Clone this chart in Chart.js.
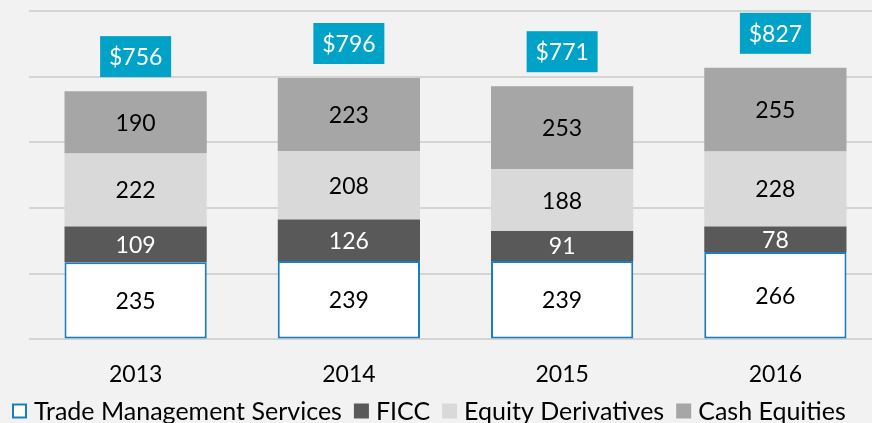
<!DOCTYPE html>
<html>
<head>
<meta charset="utf-8">
<script src="https://cdn.jsdelivr.net/npm/chart.js@4/dist/chart.umd.min.js"></script>
<style>
  html, body { margin: 0; padding: 0; background: #f2f2f2; overflow: hidden; }
  #wrap { width: 882px; height: 423px; position: relative; }
</style>
</head>
<body>
<div id="wrap"><canvas id="revChart"></canvas></div>
<script>
const years = ['2013', '2014', '2015', '2016'];
const tradeMgmt = [235, 239, 239, 266];
const ficc = [109, 126, 91, 78];
const equityDeriv = [222, 208, 188, 228];
const cashEquities = [190, 223, 253, 255];
const totals = [756, 796, 771, 827];

const FONT = 'Lato, "Open Sans", sans-serif';

// numbers centred in each stacked segment
const segmentLabels = {
    id: 'segmentLabels',
    afterDatasetsDraw(chart) {
        const ctx = chart.ctx;
        ctx.save();
        ctx.font = '23px ' + FONT;
        ctx.textAlign = 'center';
        ctx.textBaseline = 'middle';
        chart.data.datasets.forEach((ds, i) => {
            const meta = chart.getDatasetMeta(i);
            meta.data.forEach((bar, j) => {
                const midY = (bar.y + bar.base) / 2;
                ctx.fillStyle = ds.labelColor;
                ctx.fillText(ds.data[j], bar.x, midY + 1);
            });
        });
        ctx.restore();
    }
};

// cyan total boxes above each bar
const totalBoxes = {
    id: 'totalBoxes',
    afterDatasetsDraw(chart) {
        const ctx = chart.ctx;
        const y = chart.scales.y;
        const x = chart.scales.x;
        ctx.save();
        ctx.font = '23px ' + FONT;
        ctx.textAlign = 'center';
        ctx.textBaseline = 'middle';
        totals.forEach((t, i) => {
            const cx = x.getPixelForValue(i);
            const top = y.getPixelForValue(t);
            const w = 71, h = 41;
            ctx.fillStyle = '#00a2c7';
            ctx.fillRect(cx - w / 2, top - 14 - h, w, h);
            ctx.fillStyle = '#ffffff';
            ctx.fillText('$' + t, cx, top - 14 - h / 2 + 1);
        });
        ctx.restore();
    }
};

// legend drawn along the bottom edge
const bottomLegend = {
    id: 'bottomLegend',
    afterDraw(chart) {
        const ctx = chart.ctx;
        ctx.save();
        ctx.font = '25px ' + FONT;
        ctx.textBaseline = 'middle';
        ctx.textAlign = 'left';
        let x = 12;
        const cy = 411;
        chart.data.datasets.forEach(ds => {
            ctx.fillStyle = ds.backgroundColor;
            ctx.fillRect(x, cy - 7.5, 15, 15);
            if (ds.borderWidth) {
                ctx.strokeStyle = ds.borderColor;
                ctx.lineWidth = 2;
                ctx.strokeRect(x + 1, cy - 6.5, 13, 13);
            }
            x += 22;
            ctx.fillStyle = '#000000';
            ctx.fillText(ds.label, x, cy + 1);
            x += ctx.measureText(ds.label).width + 12;
        });
        ctx.restore();
    }
};

const ctx = document.getElementById('revChart').getContext('2d');
new Chart(ctx, {
    type: 'bar',
    data: {
        labels: years,
        datasets: [
            {
                label: 'Trade Management Services',
                data: tradeMgmt,
                backgroundColor: '#ffffff',
                borderColor: '#1a7dc2',
                borderWidth: 2,
                borderSkipped: false,
                labelColor: '#000000'
            },
            {
                label: 'FICC',
                data: ficc,
                backgroundColor: '#595959',
                borderWidth: 0,
                labelColor: '#ffffff'
            },
            {
                label: 'Equity Derivatives',
                data: equityDeriv,
                backgroundColor: '#d9d9d9',
                borderWidth: 0,
                labelColor: '#000000'
            },
            {
                label: 'Cash Equities',
                data: cashEquities,
                backgroundColor: '#a6a6a6',
                borderWidth: 0,
                labelColor: '#000000'
            }
        ]
    },
    options: {
        responsive: true,
        maintainAspectRatio: false,
        animation: false,
        layout: { padding: { left: 29, right: 0, top: 11, bottom: 22 } },
        datasets: {
            bar: { barPercentage: 0.667, categoryPercentage: 1.0 }
        },
        scales: {
            x: {
                stacked: true,
                grid: { display: false },
                border: { display: false },
                ticks: { color: '#000000', font: { family: FONT, size: 23 }, padding: 13 }
            },
            y: {
                stacked: true,
                min: 0,
                max: 1000,
                ticks: { display: false, stepSize: 200 },
                grid: { color: '#d4d4d4', lineWidth: 2, drawTicks: false },
                border: { display: false }
            }
        },
        plugins: {
            legend: { display: false },
            tooltip: { enabled: false }
        }
    },
    plugins: [segmentLabels, totalBoxes, bottomLegend]
});
</script>
</body>
</html>
